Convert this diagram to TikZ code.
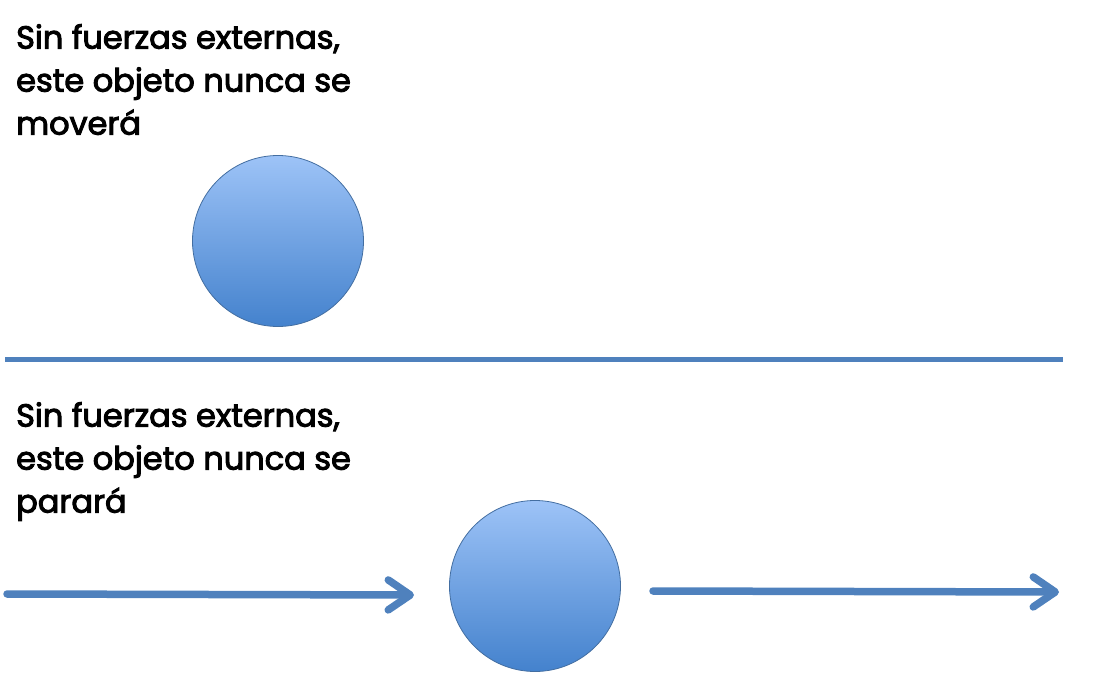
\documentclass[tikz,border=0pt]{standalone}
\usepackage{fontspec}
\setmainfont{Poppins}
\newfontfamily\capfont{Poppins}[FakeBold=3]
\usetikzlibrary{arrows.meta}

\definecolor{lineblue}{HTML}{4F81BD}
\definecolor{balltop}{HTML}{9DC3F7}
\definecolor{ballbot}{HTML}{4482CD}

\tikzset{
	ball/.style={circle, minimum size=171pt, inner sep=0pt, draw=lineblue!85!black, line width=.8pt, top color=balltop, bottom color=ballbot},
	motion/.style={line width=7.5pt, lineblue, line cap=round, -{Straight Barb[length=22pt, width=30pt, line cap=round, line join=round]}},
	caption/.style={anchor=north west, align=left, inner sep=0pt, font=\capfont\fontsize{32}{43}\selectfont},
}

\begin{document}
\begin{tikzpicture}[x=1pt, y=-1pt]
	\useasboundingbox (0,0) rectangle (1100,679);
	
	\node[caption] (txtrest) at (16,24) {Sin fuerzas externas,\\este objeto nunca se\\moverá};
	\node[ball] (restball) at (278,241) {};
	
	\coordinate (sepL) at (5,359);
	\coordinate (sepR) at (1063,359);
	\draw[line width=5pt, lineblue] (sepL) -- (sepR);
	
	\node[caption] (txtmove) at (16,402) {Sin fuerzas externas,\\este objeto nunca se\\parará};
	\node[ball] (moveball) at (535,586) {};
	
	\coordinate (inL) at (7,594);
	\coordinate (inR) at (414,595);
	\coordinate (outL) at (653,591);
	\coordinate (outR) at (1059,592);
	\draw[motion] (inL) -- (inR);
	\draw[motion] (outL) -- (outR);
\end{tikzpicture}
\end{document}
